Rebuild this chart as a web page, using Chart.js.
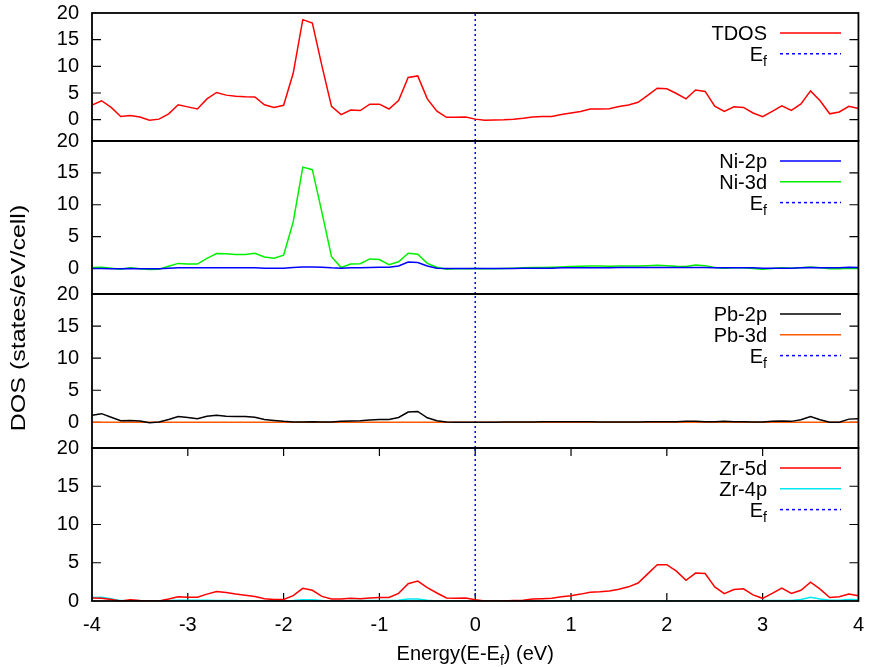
<!DOCTYPE html>
<html>
<head>
<meta charset="utf-8">
<script src="https://cdn.jsdelivr.net/npm/chart.js@4.4.0/dist/chart.umd.min.js"></script>
<style>
  html, body { margin: 0; padding: 0; background: #fff; }
  #wrap { width: 876px; height: 667px; }
</style>
</head>
<body>
<div id="wrap"><canvas id="dos" width="876" height="667"></canvas></div>
<script>
// energy grid (eV, relative to Ef)
const energy = [
  -4.0, -3.9, -3.8, -3.7, -3.6, -3.5, -3.4, -3.3, -3.2, -3.1,
  -3.0, -2.9, -2.8, -2.7, -2.6, -2.5, -2.4, -2.3, -2.2, -2.1,
  -2.0, -1.9, -1.8, -1.7, -1.6, -1.5, -1.4, -1.3, -1.2, -1.1,
  -1.0, -0.9, -0.8, -0.7, -0.6, -0.5, -0.4, -0.3, -0.2, -0.1,
  0.0, 0.1, 0.2, 0.3, 0.4, 0.5, 0.6, 0.7, 0.8, 0.9,
  1.0, 1.1, 1.2, 1.3, 1.4, 1.5, 1.6, 1.7, 1.8, 1.9,
  2.0, 2.1, 2.2, 2.3, 2.4, 2.5, 2.6, 2.7, 2.8, 2.9,
  3.0, 3.1, 3.2, 3.3, 3.4, 3.5, 3.6, 3.7, 3.8, 3.9, 4.0
];

const tdos = [
  2.75, 3.55, 2.3, 0.6, 0.8, 0.5, -0.1, 0.1, 1.1, 2.8,
  2.4, 2.0, 3.9, 5.1, 4.6, 4.4, 4.3, 4.25, 2.8, 2.3,
  2.7, 8.7, 18.75, 18.1, 10.1, 2.5, 0.95, 1.8, 1.7, 2.9,
  2.9, 2.0, 3.6, 7.9, 8.2, 3.9, 1.6, 0.45, 0.45, 0.5,
  0.1, -0.1, -0.05, 0.0, 0.1, 0.25, 0.5, 0.6, 0.6, 0.95,
  1.25, 1.55, 2.0, 2.0, 2.05, 2.45, 2.75, 3.25, 4.55, 5.9,
  5.8, 4.9, 3.9, 5.55, 5.3, 2.55, 1.55, 2.4, 2.3, 1.25,
  0.55, 1.55, 2.6, 1.75, 2.95, 5.4, 3.55, 1.1, 1.45, 2.5, 2.1
];

const ni2p = [
  0.0, 0.0, -0.05, -0.05, 0.0, -0.05, -0.05, -0.05, 0.05, 0.1,
  0.1, 0.1, 0.1, 0.1, 0.1, 0.1, 0.1, 0.1, 0.05, 0.05,
  0.05, 0.15, 0.25, 0.25, 0.2, 0.1, 0.05, 0.1, 0.1, 0.15,
  0.2, 0.2, 0.4, 1.0, 0.95, 0.4, 0.05, 0.0, 0.0, 0.0,
  0.0, 0.0, 0.0, 0.0, 0.0, 0.05, 0.05, 0.05, 0.05, 0.1,
  0.1, 0.1, 0.1, 0.1, 0.1, 0.15, 0.15, 0.15, 0.15, 0.15,
  0.15, 0.15, 0.15, 0.15, 0.15, 0.1, 0.1, 0.1, 0.1, 0.1,
  0.05, 0.05, 0.05, 0.05, 0.1, 0.15, 0.1, 0.1, 0.1, 0.2, 0.15
];

const ni3d = [
  0.15, 0.2, 0.05, -0.1, 0.1, -0.05, -0.15, -0.1, 0.35, 0.8,
  0.7, 0.7, 1.6, 2.35, 2.3, 2.2, 2.2, 2.4, 1.8, 1.6,
  2.1, 7.3, 15.9, 15.5, 8.8, 1.85, 0.15, 0.7, 0.75, 1.5,
  1.4, 0.6, 1.05, 2.4, 2.25, 0.8, 0.2, -0.1, -0.05, -0.05,
  0.0, -0.05, -0.05, 0.0, 0.05, 0.1, 0.15, 0.15, 0.2, 0.25,
  0.3, 0.35, 0.4, 0.4, 0.35, 0.4, 0.4, 0.4, 0.45, 0.5,
  0.45, 0.35, 0.3, 0.55, 0.45, 0.15, 0.05, 0.1, 0.1, 0.0,
  -0.1, 0.0, 0.1, 0.05, 0.1, 0.25, 0.1, -0.05, -0.05, 0.05, 0.0
];

const pb2p = [
  1.1, 1.35, 0.8, 0.25, 0.3, 0.2, -0.05, 0.05, 0.45, 0.9,
  0.75, 0.55, 0.95, 1.1, 0.95, 0.9, 0.9, 0.8, 0.45, 0.3,
  0.15, 0.05, 0.05, 0.1, 0.05, 0.05, 0.15, 0.2, 0.25, 0.35,
  0.45, 0.45, 0.75, 1.6, 1.7, 0.7, 0.25, 0.05, 0.0, 0.0,
  0.0, 0.0, 0.0, 0.05, 0.05, 0.05, 0.05, 0.1, 0.1, 0.1,
  0.1, 0.1, 0.1, 0.05, 0.05, 0.05, 0.05, 0.05, 0.1, 0.1,
  0.1, 0.1, 0.15, 0.15, 0.1, 0.1, 0.15, 0.1, 0.1, 0.05,
  0.05, 0.15, 0.2, 0.15, 0.4, 0.9, 0.4, 0.0, 0.0, 0.5, 0.55
];

const pb3d = [
  0.0, 0.0, 0.0, 0.0, 0.0, 0.0, 0.0, 0.0, 0.0, 0.0,
  0.0, 0.0, 0.0, 0.0, 0.0, 0.0, 0.0, 0.0, 0.0, 0.0,
  0.0, 0.0, 0.0, 0.0, 0.0, 0.0, 0.0, 0.0, 0.0, 0.0,
  0.0, 0.0, 0.0, 0.0, 0.0, 0.0, 0.0, 0.0, 0.0, 0.0,
  0.0, 0.0, 0.0, 0.0, 0.0, 0.0, 0.0, 0.0, 0.0, 0.0,
  0.0, 0.0, 0.0, 0.0, 0.0, 0.0, 0.0, 0.0, 0.0, 0.0,
  0.0, 0.0, 0.0, 0.0, 0.0, 0.0, 0.0, 0.0, 0.0, 0.0,
  0.0, 0.0, 0.0, 0.0, 0.0, 0.0, 0.0, 0.0, 0.0, 0.0, 0.0
];

const zr5d = [
  0.4, 0.35, 0.2, 0.0, 0.15, 0.05, 0.0, 0.0, 0.25, 0.55,
  0.5, 0.5, 0.9, 1.25, 1.1, 0.9, 0.75, 0.6, 0.3, 0.2,
  0.2, 0.7, 1.65, 1.4, 0.6, 0.25, 0.25, 0.35, 0.3, 0.4,
  0.45, 0.45, 1.0, 2.25, 2.6, 1.75, 1.05, 0.4, 0.35, 0.4,
  0.15, 0.0, 0.0, 0.0, 0.05, 0.1, 0.25, 0.3, 0.35, 0.55,
  0.7, 0.9, 1.15, 1.2, 1.3, 1.55, 1.85, 2.35, 3.55, 4.75,
  4.75, 3.9, 2.7, 3.65, 3.6, 1.85, 0.95, 1.5, 1.6, 0.8,
  0.35, 1.0, 1.7, 1.0, 1.4, 2.45, 1.55, 0.45, 0.55, 0.9, 0.7
];

const zr4p = [
  0.45, 0.5, 0.3, 0.05, 0.0, 0.0, 0.0, 0.0, 0.05, 0.1,
  0.1, 0.1, 0.1, 0.05, 0.05, 0.05, 0.0, 0.0, 0.0, 0.0,
  0.0, 0.05, 0.15, 0.15, 0.05, 0.0, 0.0, 0.05, 0.05, 0.05,
  0.05, 0.05, 0.1, 0.25, 0.25, 0.1, 0.0, 0.0, 0.0, 0.0,
  0.0, 0.0, 0.0, 0.0, 0.0, 0.0, 0.0, 0.0, 0.0, 0.0,
  0.0, 0.0, 0.0, 0.0, 0.0, 0.0, 0.0, 0.0, 0.0, 0.0,
  0.0, 0.0, 0.0, 0.0, 0.0, 0.0, 0.0, 0.0, 0.0, 0.0,
  0.05, 0.05, 0.05, 0.05, 0.2, 0.5, 0.25, 0.1, 0.1, 0.2, 0.15
];

const yTickValues = [0, 5, 10, 15, 20];
const xTickValues = [-4, -3, -2, -1, 0, 1, 2, 3, 4];
const panelMin = [-4, -4, -4, 0];
const panelMax = 20;
const fermiLevel = 0;

const FONT = '"Liberation Sans", Arial, Helvetica, sans-serif';
const FONT_SIZE = 20;

// each panel: its curves, top to bottom
const panels = [
  [ { label: 'TDOS', data: tdos, color: '#ff0000' } ],
  [ { label: 'Ni-2p', data: ni2p, color: '#0000ff' },
    { label: 'Ni-3d', data: ni3d, color: '#00f000' } ],
  [ { label: 'Pb-2p', data: pb2p, color: '#000000' },
    { label: 'Pb-3d', data: pb3d, color: '#ff5a00' } ],
  [ { label: 'Zr-5d', data: zr5d, color: '#ff0000' },
    { label: 'Zr-4p', data: zr4p, color: '#00e8f0' } ]
];
// relative panel heights
const panelHeights = [128, 153, 154, 153];

const datasets = [];
panels.forEach((curves, i) => {
  curves.forEach(c => {
    datasets.push({
      label: c.label,
      data: energy.map((e, k) => ({ x: e, y: c.data[k] })),
      yAxisID: 'y' + i,
      borderColor: c.color,
      borderWidth: 1.5,
      pointRadius: 0,
      tension: 0,
      fill: false
    });
  });
  datasets.push({
    label: 'Ef',
    data: [{ x: fermiLevel, y: panelMin[i] }, { x: fermiLevel, y: panelMax }],
    yAxisID: 'y' + i,
    borderColor: '#0000ff',
    borderWidth: 1.5,
    borderDash: [2, 3],
    pointRadius: 0,
    fill: false
  });
});

const scales = {
  x: {
    type: 'linear',
    min: -4,
    max: 4,
    afterBuildTicks: s => { s.ticks = xTickValues.map(v => ({ value: v })); },
    ticks: { padding: 12, color: '#000', font: { family: FONT, size: FONT_SIZE }, maxRotation: 0, autoSkip: false },
    grid: { display: false, drawTicks: false },
    border: { display: false },
    afterFit: s => { s.height = 66; }
  }
};
panels.forEach((curves, i) => {
  scales['y' + i] = {
    type: 'linear',
    position: 'left',
    stack: 'dos',
    stackWeight: panelHeights[i],
    weight: panels.length - i,
    min: panelMin[i],
    max: panelMax,
    afterBuildTicks: s => { s.ticks = yTickValues.map(v => ({ value: v })); },
    ticks: { padding: 13, color: '#000', font: { family: FONT, size: FONT_SIZE }, autoSkip: false },
    grid: { display: false, drawTicks: false },
    border: { display: false },
    afterFit: s => {
      s.width = 92;
      // labels may overflow the panel edges; don't let them shrink the plot
      s.paddingTop = 0;
      s.paddingBottom = 0;
    }
  };
});

// draw a string with optional subscript parts: [[text, isSub], ...]
function drawRich(ctx, parts, x, y, align) {
  const big = FONT_SIZE + 'px ' + FONT;
  const small = '14px ' + FONT;
  let total = 0;
  parts.forEach(p => { ctx.font = p[1] ? small : big; total += ctx.measureText(p[0]).width; });
  let cx = align === 'right' ? x - total : align === 'center' ? x - total / 2 : x;
  ctx.textAlign = 'left';
  ctx.textBaseline = 'alphabetic';
  parts.forEach(p => {
    ctx.font = p[1] ? small : big;
    ctx.fillText(p[0], cx, p[1] ? y + 5 : y);
    cx += ctx.measureText(p[0]).width;
  });
}

const gnuFrame = {
  id: 'gnuFrame',
  // tick marks go under the curves
  beforeDatasetsDraw(chart) {
    const ctx = chart.ctx;
    const area = chart.chartArea;
    ctx.save();
    ctx.strokeStyle = '#000';
    ctx.lineWidth = 1.2;
    ctx.beginPath();
    panels.forEach((curves, i) => {
      const s = chart.scales['y' + i];
      yTickValues.forEach(v => {
        if (v <= panelMin[i] || v >= panelMax) return;
        const py = s.getPixelForValue(v);
        ctx.moveTo(area.left, py); ctx.lineTo(area.left + 9, py);
        ctx.moveTo(area.right, py); ctx.lineTo(area.right - 9, py);
      });
    });
    // x ticks on the bottom panel (top and bottom edges)
    const xs = chart.scales.x;
    const bottomPanel = chart.scales['y' + (panels.length - 1)];
    xTickValues.forEach(v => {
      if (v <= xs.min || v >= xs.max) return;
      const px = xs.getPixelForValue(v);
      ctx.moveTo(px, bottomPanel.bottom); ctx.lineTo(px, bottomPanel.bottom - 8);
      ctx.moveTo(px, bottomPanel.top); ctx.lineTo(px, bottomPanel.top + 8);
    });
    ctx.stroke();
    ctx.restore();
  },
  afterDraw(chart) {
    const ctx = chart.ctx;
    const area = chart.chartArea;
    ctx.save();
    ctx.fillStyle = '#000';
    ctx.strokeStyle = '#000';

    panels.forEach((curves, i) => {
      const s = chart.scales['y' + i];
      // frame
      ctx.lineWidth = 1.8;
      ctx.strokeRect(area.left, s.top, area.right - area.left, s.bottom - s.top);

      // legend
      const rows = curves.map(c => ({ parts: [[c.label, 0]], color: c.color, dash: [] }));
      rows.push({ parts: [['E', 0], ['f', 1]], color: '#0000ff', dash: [3, 3] });
      rows.forEach((r, k) => {
        const ry = s.top + 20 + 20.8 * k;
        ctx.fillStyle = '#000';
        drawRich(ctx, r.parts, 767, ry + 7, 'right');
        ctx.save();
        ctx.strokeStyle = r.color;
        ctx.lineWidth = 1.5;
        ctx.setLineDash(r.dash);
        ctx.beginPath();
        ctx.moveTo(780, ry); ctx.lineTo(841, ry);
        ctx.stroke();
        ctx.restore();
      });
    });

    // axis titles
    ctx.fillStyle = '#000';
    drawRich(ctx, [['Energy(E-E', 0], ['f', 1], [') (eV)', 0]], (area.left + area.right) / 2, 660, 'center');

    ctx.save();
    ctx.translate(25, 318);
    ctx.rotate(-Math.PI / 2);
    ctx.scale(1.25, 1);
    ctx.font = FONT_SIZE + 'px ' + FONT;
    ctx.textAlign = 'center';
    ctx.textBaseline = 'alphabetic';
    ctx.fillText('DOS (states/eV/cell)', 0, 0);
    ctx.restore();

    ctx.restore();
  }
};

new Chart(document.getElementById('dos'), {
  type: 'line',
  data: { datasets },
  options: {
    responsive: false,
    animation: false,
    devicePixelRatio: 1,
    layout: { padding: { left: 0, top: 13, right: 9, bottom: 0 } },
    plugins: {
      legend: { display: false },
      tooltip: { enabled: false }
    },
    scales
  },
  plugins: [gnuFrame]
});
</script>
</body>
</html>
